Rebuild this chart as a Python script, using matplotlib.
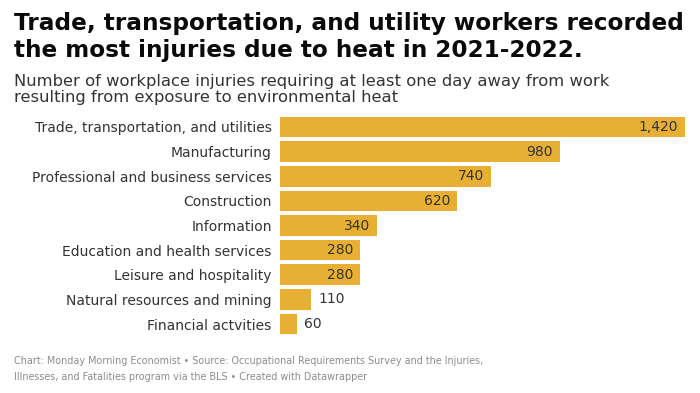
import matplotlib
matplotlib.use('Agg')
from matplotlib import pyplot

pyplot.rcParams['font.family'] = ['DejaVu Sans']

categories = ['Trade, transportation, and utilities', 'Manufacturing',
              'Professional and business services', 'Construction',
              'Information', 'Education and health services',
              'Leisure and hospitality', 'Natural resources and mining',
              'Financial actvities']
values = [1420, 980, 740, 620, 340, 280, 280, 110, 60]

title_lines = ['Trade, transportation, and utility workers recorded',
               'the most injuries due to heat in 2021-2022.']
subtitle_lines = ['Number of workplace injuries requiring at least one day away from work',
                  'resulting from exposure to environmental heat']
footer_lines = ['Chart: Monday Morning Economist \u2022 Source: Occupational Requirements Survey and the Injuries,',
                'Illnesses, and Fatalities program via the BLS \u2022 Created with Datawrapper']

bar_color = '#e7af33'
text_color = '#333333'

fig = pyplot.figure(figsize=(7, 3.93), dpi=100)
ax = fig.add_axes([0.4, 0.1441, 0.5786, 0.5642])

pos = list(range(len(values)))
ax.barh(pos, values, height=0.84, color=bar_color)
ax.set_xlim(0, 1420)
ax.set_ylim(len(values) - 0.5, -0.5)
ax.set_yticks(pos)
ax.set_yticklabels(categories, fontsize=10, color=text_color)
ax.tick_params(axis='y', length=0, pad=6)
ax.set_xticks([])
for s in ax.spines.values():
    s.set_visible(False)

for p, v in zip(pos, values):
    lab = '{:,}'.format(v)
    if v >= 200:
        ax.annotate(lab, (v, p), xytext=(-5, 0), textcoords='offset points',
                    ha='right', va='center', fontsize=10, color=text_color)
    else:
        ax.annotate(lab, (v, p), xytext=(5, 0), textcoords='offset points',
                    ha='left', va='center', fontsize=10, color=text_color)

for y, t in zip([0.9237, 0.855], title_lines):
    fig.text(0.02, y, t, fontsize=16.7, fontweight='bold', color='#0a0a0a', va='baseline')
for y, t in zip([0.7812, 0.7405], subtitle_lines):
    fig.text(0.02, y, t, fontsize=11.8, color='#333333', va='baseline')
for y, t in zip([0.0738, 0.0331], footer_lines):
    fig.text(0.02, y, t, fontsize=6.9, color='#8c8c8c', va='baseline')

fig.savefig('out.png', dpi=100)
